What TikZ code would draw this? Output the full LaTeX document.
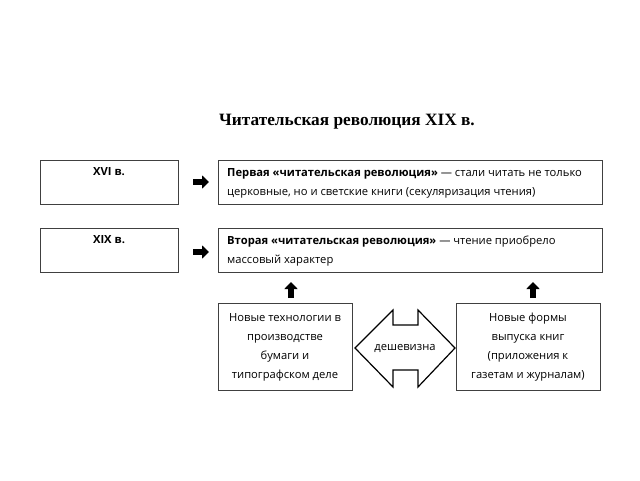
\documentclass[tikz,border=0pt]{standalone}
\usepackage{fontspec}
\setmainfont{Open Sans}
\newfontfamily\titlefont{Liberation Serif}
\usetikzlibrary{arrows.meta}
\begin{document}
\begin{tikzpicture}[x=1pt,y=-1pt,
  box/.style={draw=black!75,line width=0.6pt},
  txt/.style={font=\fontsize{11.2}{19}\selectfont,inner sep=0pt},
  blk/.style={line width=5.5pt,-{Triangle[width=13pt,length=7pt]}}]
\useasboundingbox (0,0) rectangle (640,480);
\node[font=\titlefont\bfseries\fontsize{17.3}{20}\selectfont] (title) at (347,122) {Читательская революция XIX в.};
\draw[box] (40,160) rectangle (178,204);
\node[txt,font=\fontsize{11.2}{19}\selectfont\bfseries] (a) at (109,172) {XVI в.};
\draw[box] (218,160) rectangle (602,204);
\node[txt,anchor=west] (b1) at (227,174) {\textbf{Первая «читательская революция»} — стали читать не только};
\node[txt,anchor=west] (b2) at (227,193) {церковные, но и светские книги (секуляризация чтения)};
\draw[box] (40,228) rectangle (178,272);
\node[txt,font=\fontsize{11.2}{19}\selectfont\bfseries] (c) at (109,240) {XIX в.};
\draw[box] (218,228) rectangle (602,272);
\node[txt,anchor=west] (d1) at (227,242) {\textbf{Вторая «читательская революция»} — чтение приобрело};
\node[txt,anchor=west] (d2) at (227,261) {массовый характер};
\coordinate (p1) at (193,182); \coordinate (q1) at (209,182);
\draw[blk] (p1) -- (q1);
\coordinate (p2) at (193,252); \coordinate (q2) at (209,252);
\draw[blk] (p2) -- (q2);
\coordinate (u1) at (291,298); \coordinate (v1) at (291,282);
\draw[blk] (u1) -- (v1);
\coordinate (u2) at (533,298); \coordinate (v2) at (533,282);
\draw[blk] (u2) -- (v2);
\draw[box] (218,303) rectangle (352,390);
\node[txt,align=center] (e) at (285,347) {Новые технологии в\\производстве\\бумаги и\\типографском деле};
\draw[box] (456,303) rectangle (600,390);
\node[txt,align=center] (f) at (528,347) {Новые формы\\выпуска книг\\(приложения к\\газетам и журналам)};
\draw[line width=1.2pt,line join=miter] (355,348) -- (393,310) -- (393,325) -- (418,325) -- (418,310) -- (455,348) -- (418,387) -- (418,370) -- (393,370) -- (393,387) -- cycle;
\node[txt] (g) at (405,348) {дешевизна};
\end{tikzpicture}
\end{document}
